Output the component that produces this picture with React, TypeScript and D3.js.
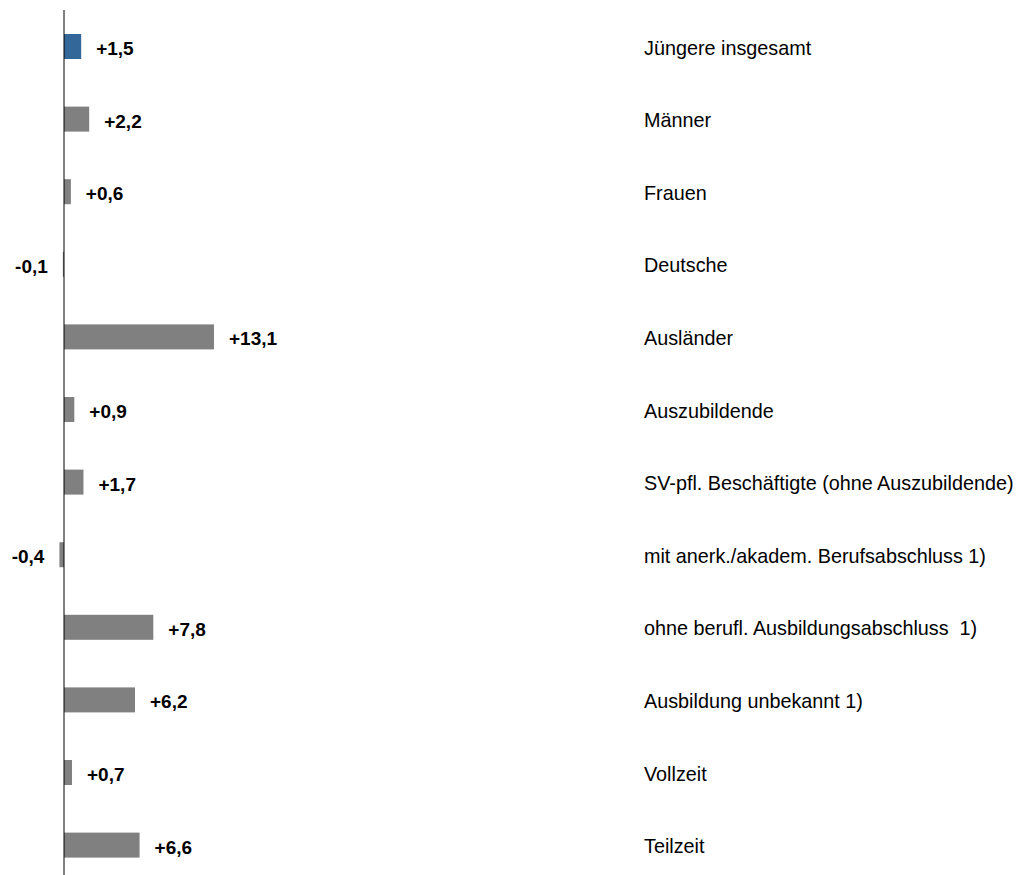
import React from "react";
import * as d3 from "d3";

// Veränderung gegenüber Vorjahr in Prozent
const categories: string[] = [
  "Jüngere insgesamt",
  "Männer",
  "Frauen",
  "Deutsche",
  "Ausländer",
  "Auszubildende",
  "SV-pfl. Beschäftigte (ohne Auszubildende)",
  "mit anerk./akadem. Berufsabschluss 1)",
  "ohne berufl. Ausbildungsabschluss  1)",
  "Ausbildung unbekannt 1)",
  "Vollzeit",
  "Teilzeit",
];

const values: number[] = [1.5, 2.2, 0.6, -0.1, 13.1, 0.9, 1.7, -0.4, 7.8, 6.2, 0.7, 6.6];

const valueLabels: string[] = [
  "+1,5", "+2,2", "+0,6", "-0,1", "+13,1", "+0,9",
  "+1,7", "-0,4", "+7,8", "+6,2", "+0,7", "+6,6",
];

const WIDTH = 1021;
const HEIGHT = 875;

export default function App() {
  const x = d3.scaleLinear().domain([0, 13.1]).range([64, 214]);
  const y = d3
    .scalePoint<string>()
    .domain(categories)
    .range([10.2, 881.4])
    .padding(0.5);
  const barH = 25;
  const font = "Arial, 'Liberation Sans', Helvetica, sans-serif";

  return (
    <div style={{ position: "fixed", left: 0, top: 0, background: "#fff" }}>
      <svg width={WIDTH} height={HEIGHT} style={{ display: "block" }}>
        <rect width={WIDTH} height={HEIGHT} fill="#fff" />
        {categories.map((c, i) => {
          const v = values[i];
          const cy = y(c) as number;
          const x0 = x(Math.min(0, v));
          const x1 = x(Math.max(0, v));
          const fill = i === 0 ? "#336699" : "#808080";
          return (
            <g key={c}>
              <rect
                x={x0}
                y={cy - barH / 2}
                width={Math.max(0.8, x1 - x0)}
                height={barH}
                fill={fill}
              />
              <text
                x={v >= 0 ? x(v) + 15 : x(v) - 15}
                y={cy + 8.5}
                textAnchor={v >= 0 ? "start" : "end"}
                fontFamily={font}
                fontWeight="bold"
                fontSize={19}
                fill="#000"
              >
                {valueLabels[i]}
              </text>
              <text
                x={644}
                y={cy + 8}
                fontFamily={font}
                fontSize={19.8}
                fill="#000"
                style={{ whiteSpace: "pre" }}
              >
                {c}
              </text>
            </g>
          );
        })}
        <line x1={x(0)} x2={x(0)} y1={10} y2={HEIGHT} stroke="#000" strokeWidth={1} />
      </svg>
    </div>
  );
}
